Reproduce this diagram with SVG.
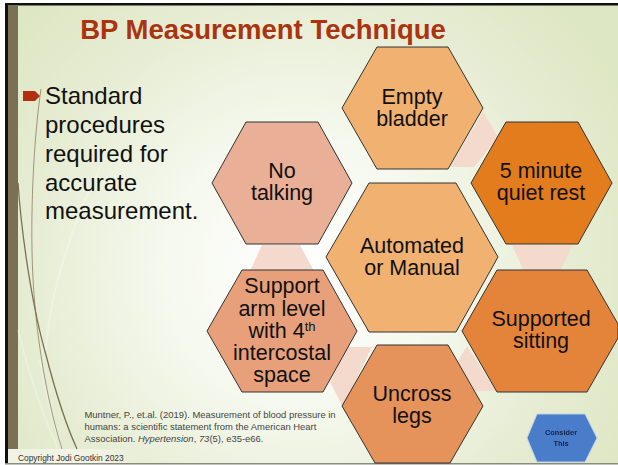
<svg xmlns="http://www.w3.org/2000/svg" width="618" height="465" viewBox="0 0 618 465">
<style>
text{font-family:"Liberation Sans",Arial,sans-serif;fill:#111}
.hex{stroke:#333;stroke-width:1}
.h{font-size:21.5px;text-anchor:middle}
.b{font-size:24px}
.r{font-size:9.45px;fill:#444}
.band{fill:#f4d9cd}
.w{fill:none;stroke:#7b7054}
.p{fill:none;stroke:#fff;stroke-opacity:.25;stroke-width:2}
.c{font-size:7.4px;font-weight:bold;text-anchor:middle;fill:#14234f}
</style>
<defs>
<radialGradient id="bg" gradientUnits="userSpaceOnUse" cx="300" cy="270" r="370">
<stop offset="0" stop-color="#ffffff"/><stop offset=".35" stop-color="#f6f9ef"/><stop offset=".75" stop-color="#e6ecd2"/><stop offset="1" stop-color="#dee7c4"/>
</radialGradient>
<linearGradient id="foot" x1="0" x2="1" y1="0" y2="0"><stop offset="0" stop-color="#f1f3e5"/><stop offset=".7" stop-color="#f1f3e5"/><stop offset="1" stop-color="#f1f3e5" stop-opacity="0"/></linearGradient>
<filter id="soft" x="-10%" y="-10%" width="120%" height="120%"><feGaussianBlur stdDeviation=".5"/></filter>
</defs>
<rect width="618" height="465" fill="#fff"/>
<rect x="8" y="5" width="610" height="458" fill="url(#bg)"/>
<rect x="5" y="3" width="613" height="2.5" fill="#111"/>
<rect x="5" y="3" width="3" height="460" fill="#111"/>
<rect x="8" y="5" width="10" height="444" fill="#7a7055"/>
<rect x="8" y="449" width="130" height="14" fill="url(#foot)"/>
<rect x="5" y="463" width="613" height="1.5" fill="#8a8a80"/>
<g id="wisps">
<path class="p" d="M100 167C70 230 50 290 46 350"/>
<path class="p" d="M18 330C30 380 45 420 58 449"/>
<path class="p" d="M40 360C46 395 52 420 62 449"/>
<path class="w" stroke-width=".7" d="M41 89C35 130 31 190 32 250C33 320 45 395 62 449"/>
<path class="w" stroke-width="1.3" d="M18 183C22 240 33 310 46 355C55 390 66 425 77 449"/>
</g>
<g id="title"><text x="263" y="39" font-size="27.5" font-weight="bold" text-anchor="middle" style="fill:#ab3310">BP Measurement Technique</text></g>
<g id="bullets">
<polygon points="23,91 35,91 40,96 35,101 23,101" fill="#b03010"/>
<text class="b" x="45" y="104">Standard</text>
<text class="b" x="45" y="133">procedures</text>
<text class="b" x="45" y="162">required for</text>
<text class="b" x="45" y="191">accurate</text>
<text class="b" x="45" y="219">measurement.</text>
</g>
<g id="citation">
<text class="r" x="84.5" y="418">Muntner, P., et.al. (2019). Measurement of blood pressure in</text>
<text class="r" x="84.5" y="430">humans: a scientific statement from the American Heart</text>
<text class="r" x="84.5" y="442">Association. <tspan font-style="italic">Hypertension</tspan>, <tspan font-style="italic">73</tspan>(5), e35-e66.</text>
</g>
<g id="footer"><text x="18" y="461" font-size="8.4" style="fill:#333">Copyright Jodi Gootkin 2023</text></g>
<g id="connectors">
<polygon class="band" points="483,112 498,137 474,167 450,167"/>
<polygon class="band" points="512,245 573,245 560,271 524,271"/>
<polygon class="band" points="467,346 458,361 474,391 496,391"/>
<polygon class="band" points="347,347 372,347 343,407 330,382"/>
<polygon class="band" points="262,245 300,245 314,271 250,271"/>
</g>
<g id="node-empty"><polygon class="hex" fill="#f0b171" points="342,108 377,47 448,47 483,108 448,169 377,169"/><text class="h" x="412" y="104">Empty</text><text class="h" x="412" y="126">bladder</text></g>
<g id="node-rest"><polygon class="hex" fill="#e37c1d" points="471,183 506,122 578,122 612,183 578,244 506,244"/><text class="h" x="541" y="178">5 minute</text><text class="h" x="541" y="200">quiet rest</text></g>
<g id="node-sitting"><polygon class="hex" fill="#e4843b" points="462,331 497,270 587,270 618,324 618,338 587,392 497,392"/><text class="h" x="541" y="326">Supported</text><text class="h" x="541" y="348">sitting</text></g>
<g id="node-legs"><polygon class="hex" fill="#e5925b" points="342,406 377,345 448,345 483,406 450,463 375,463"/><text class="h" x="412" y="401">Uncross</text><text class="h" x="412" y="423">legs</text></g>
<g id="node-arm"><polygon class="hex" fill="#e7a07a" points="207,331 242,270 323,270 357,331 323,392 242,392"/>
<text class="h" x="282" y="293">Support</text><text class="h" x="282" y="315.5">arm level</text><text class="h" x="282" y="338">with 4<tspan font-size="13" dy="-7">th</tspan></text><text class="h" x="282" y="360">intercostal</text><text class="h" x="282" y="382">space</text></g>
<g id="node-talking"><polygon class="hex" fill="#e9af97" points="212,183 246,122 318,122 352,183 318,244 246,244"/><text class="h" x="282" y="178">No</text><text class="h" x="282" y="200">talking</text></g>
<g id="node-center"><polygon class="hex" fill="#f0b171" points="326,257 369,183 456,183 498,257 456,332 369,332"/><text class="h" x="412" y="253">Automated</text><text class="h" x="412" y="275">or Manual</text></g>
<g id="node-consider"><polygon fill="#4a7bc9" stroke="#b9d3e4" stroke-width="1" points="527,438 537,414 585,414 597,438 585,462 537,462" filter="url(#soft)"/>
<g filter="url(#soft)"><text class="c" x="561" y="435">Consider</text><text class="c" x="561" y="446">This</text></g></g>
</svg>
